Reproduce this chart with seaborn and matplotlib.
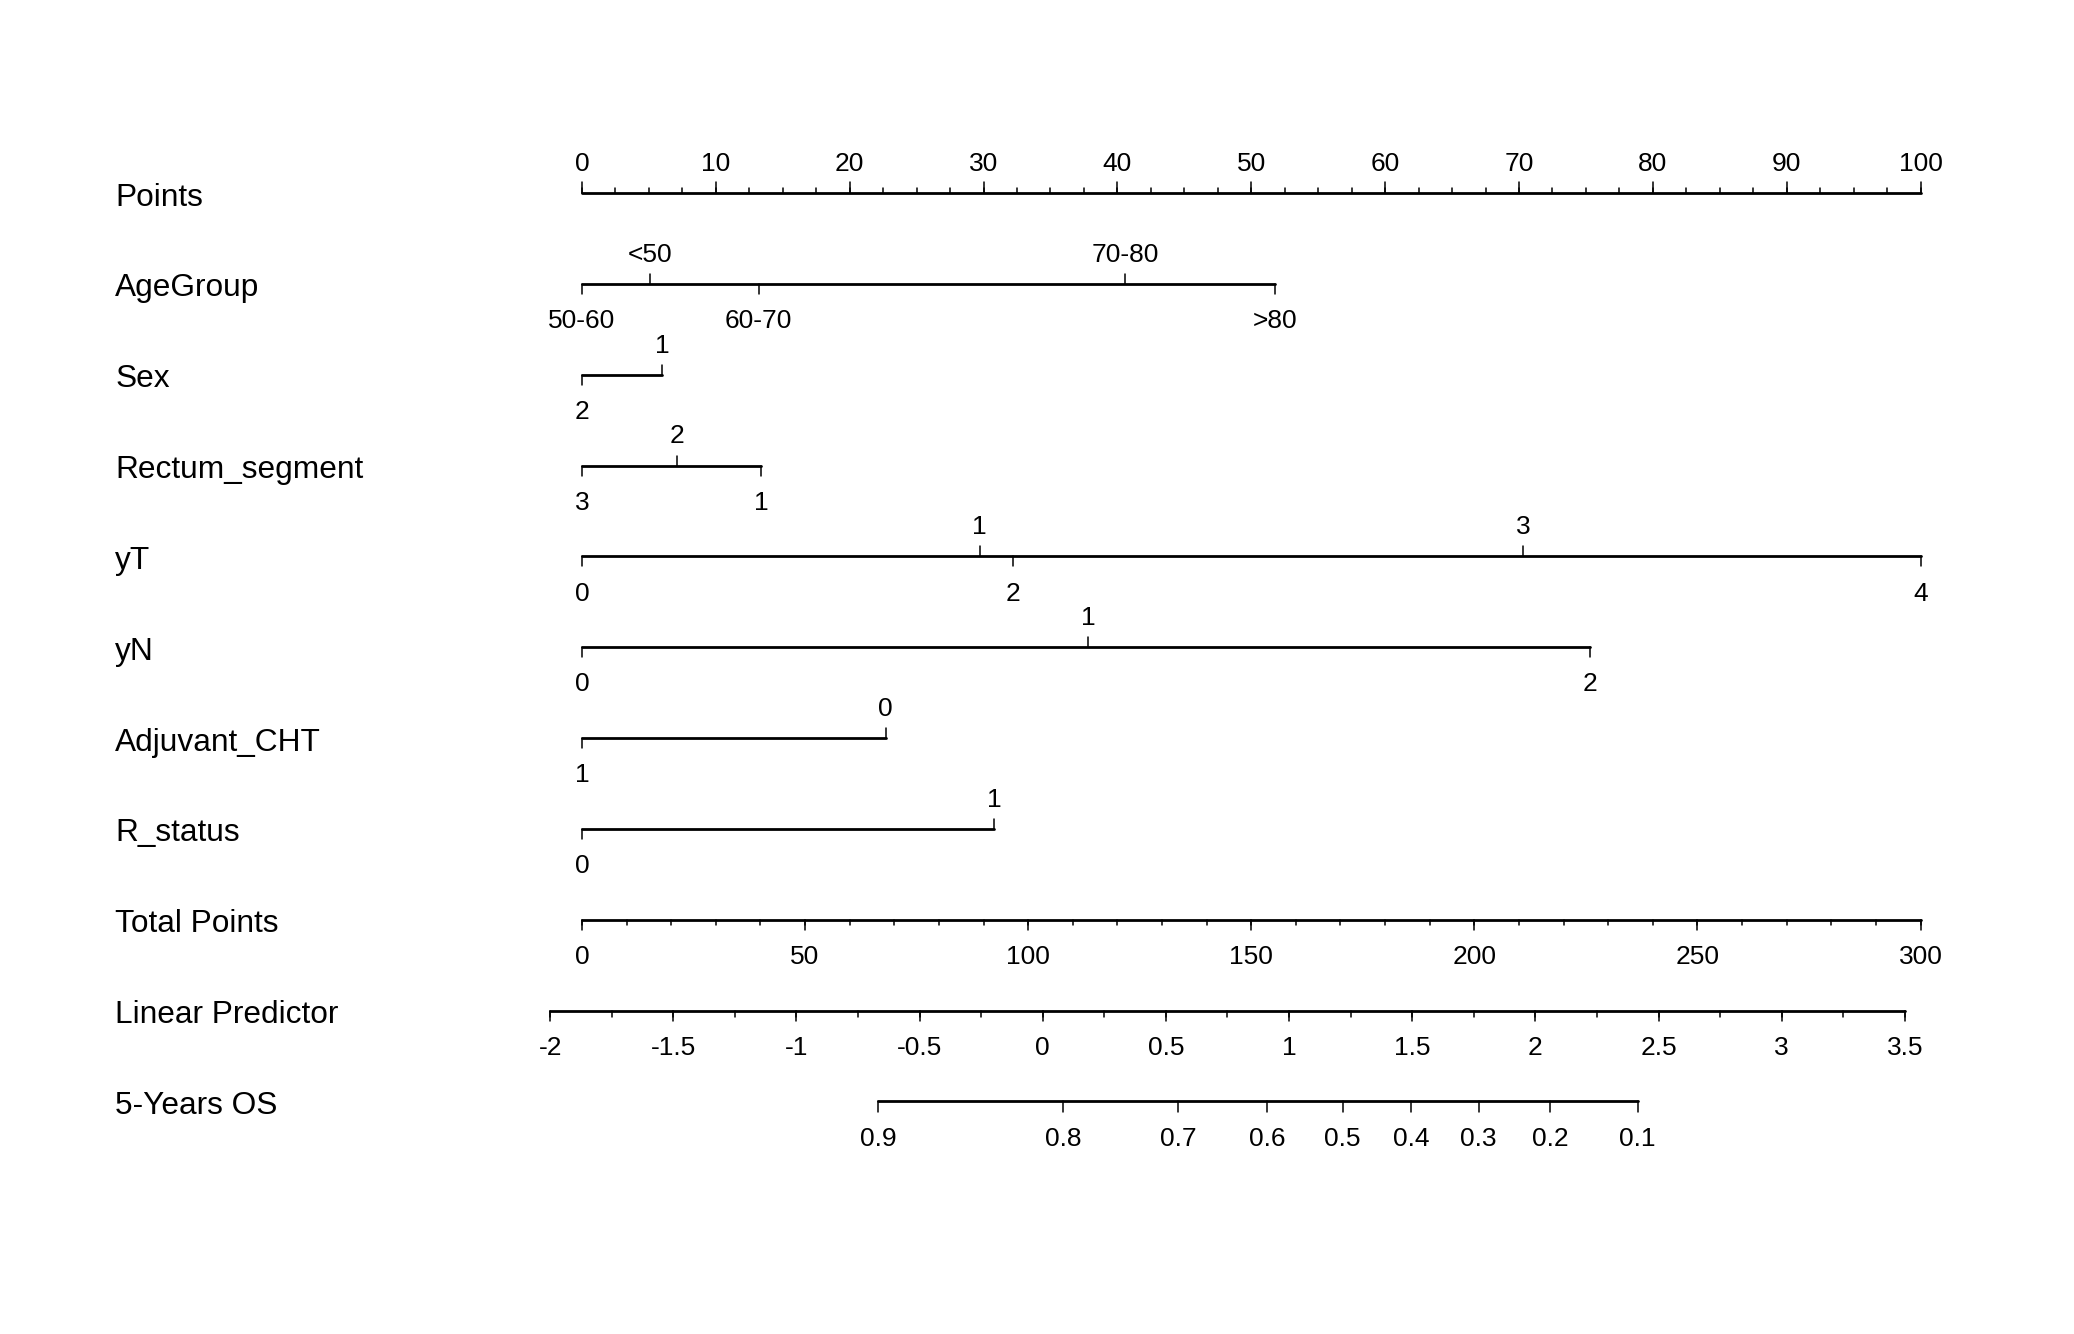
import numpy as np
import pandas as pd
import matplotlib
matplotlib.use("Agg")
import matplotlib.pyplot as plt
import seaborn as sns

sns.set_theme(style="white")
plt.rcParams["font.family"] = ["Liberation Sans", "DejaVu Sans"]

# ---------------- data ----------------
row_names = ["Points", "AgeGroup", "Sex", "Rectum_segment", "yT", "yN",
             "Adjuvant_CHT", "R_status", "Total Points", "Linear Predictor",
             "5-Years OS"]

age_levels = ["50-60", "<50", "60-70", "70-80", ">80"]
age_points = [0, 5.1, 13.2, 40.6, 51.8]
age_sides = ["below", "above", "below", "above", "below"]

sex_levels = ["2", "1"]
sex_points = [0, 6.0]
sex_sides = ["below", "above"]

rect_levels = ["3", "2", "1"]
rect_points = [0, 7.1, 13.4]
rect_sides = ["below", "above", "below"]

yt_levels = ["0", "1", "2", "3", "4"]
yt_points = [0, 29.7, 32.2, 70.3, 100]
yt_sides = ["below", "above", "below", "above", "below"]

yn_levels = ["0", "1", "2"]
yn_points = [0, 37.8, 75.3]
yn_sides = ["below", "above", "below"]

adj_levels = ["1", "0"]
adj_points = [0, 22.7]
adj_sides = ["below", "above"]

rs_levels = ["0", "1"]
rs_points = [0, 30.8]
rs_sides = ["below", "above"]

points_major = list(range(0, 101, 10))
points_minor = [v * 2.5 for v in range(0, 41)]

total_major = list(range(0, 301, 50))
total_minor = list(range(0, 301, 10))

lp_major = [-2, -1.5, -1, -0.5, 0, 0.5, 1, 1.5, 2, 2.5, 3, 3.5]
lp_minor = [-2 + 0.25 * i for i in range(23)]
lp_at_tp0 = -1.871          # linear predictor at total points = 0
lp_at_tp300 = 3.564         # linear predictor at total points = 300

os_labels = ["0.9", "0.8", "0.7", "0.6", "0.5", "0.4", "0.3", "0.2", "0.1"]
os_lp = [-0.668, 0.084, 0.551, 0.911, 1.217, 1.496, 1.770, 2.060, 2.415]

variables = [
    (age_levels, age_points, age_sides),
    (sex_levels, sex_points, sex_sides),
    (rect_levels, rect_points, rect_sides),
    (yt_levels, yt_points, yt_sides),
    (yn_levels, yn_points, yn_sides),
    (adj_levels, adj_points, adj_sides),
    (rs_levels, rs_points, rs_sides),
]

# ---------------- scales ----------------
def tp_to_x(t):
    return t / 3.0

lp_per_tp = (lp_at_tp300 - lp_at_tp0) / 300.0

def lp_to_x(lp):
    return tp_to_x((lp - lp_at_tp0) / lp_per_tp)

# ---------------- build segments ----------------
lines = []
ticks = []
texts = []
seg = [0]

def add(lst, x0, y0, x1, y1):
    seg[0] += 1
    lst.append((x0, y0, seg[0]))
    lst.append((x1, y1, seg[0]))

TICK = 0.11
ABOVE = -0.32
BELOW = 0.41

# Points row (row 0)
y = 0
add(lines, min(points_major), y, max(points_major), y)
for v in points_minor:
    add(ticks, v, y, v, y - 0.055)
for v in points_major:
    add(ticks, v, y, v, y - 0.117)
    texts.append((v, y + ABOVE, f"{v}"))

# variable rows
for i, (levels, pts, sides) in enumerate(variables):
    y = i + 1
    add(lines, min(pts), y, max(pts), y)
    for lab, p, s in zip(levels, pts, sides):
        if s == "above":
            add(ticks, p, y, p, y - TICK)
            texts.append((p, y + ABOVE, lab))
        else:
            add(ticks, p, y, p, y + TICK)
            texts.append((p, y + BELOW, lab))

# Total points (row 8)
y = 8
add(lines, tp_to_x(min(total_major)), y, tp_to_x(max(total_major)), y)
for v in total_minor:
    add(ticks, tp_to_x(v), y, tp_to_x(v), y + 0.055)
for v in total_major:
    add(ticks, tp_to_x(v), y, tp_to_x(v), y + 0.117)
    texts.append((tp_to_x(v), y + BELOW, f"{v}"))

# Linear predictor (row 9)
y = 9
add(lines, lp_to_x(min(lp_major)), y, lp_to_x(max(lp_major)), y)
for v in lp_minor:
    add(ticks, lp_to_x(v), y, lp_to_x(v), y + 0.07)
for v in lp_major:
    add(ticks, lp_to_x(v), y, lp_to_x(v), y + 0.117)
    texts.append((lp_to_x(v), y + BELOW, f"{v:g}"))

# 5-year OS (row 10)
y = 10
add(lines, lp_to_x(min(os_lp)), y, lp_to_x(max(os_lp)), y)
for lab, v in zip(os_labels, os_lp):
    add(ticks, lp_to_x(v), y, lp_to_x(v), y + 0.117)
    texts.append((lp_to_x(v), y + BELOW, lab))

df_lines = pd.DataFrame(lines, columns=["x", "y", "seg"])
df_ticks = pd.DataFrame(ticks, columns=["x", "y", "seg"])

# ---------------- draw ----------------
fig = plt.figure(figsize=(20.74, 13.34), dpi=100)
ax = fig.add_axes([0, 0, 1, 1])

sns.lineplot(data=df_lines, x="x", y="y", units="seg", estimator=None,
             sort=False, color="black", linewidth=2.0, ax=ax, legend=False)
sns.lineplot(data=df_ticks, x="x", y="y", units="seg", estimator=None,
             sort=False, color="black", linewidth=1.1, ax=ax, legend=False)

for x, yy, lab in texts:
    ax.text(x, yy, lab, ha="center", va="center", fontsize=19, color="black")

for i, name in enumerate(row_names):
    ax.text(0.0555, i + 0.05, name, transform=ax.get_yaxis_transform(),
            ha="left", va="center", fontsize=22.8, color="black")

ax.set_xlim(-43.47, 111.46)
ax.set_ylim(12.56, -2.125)
ax.axis("off")

fig.savefig("out.png", dpi=100, facecolor="white")
